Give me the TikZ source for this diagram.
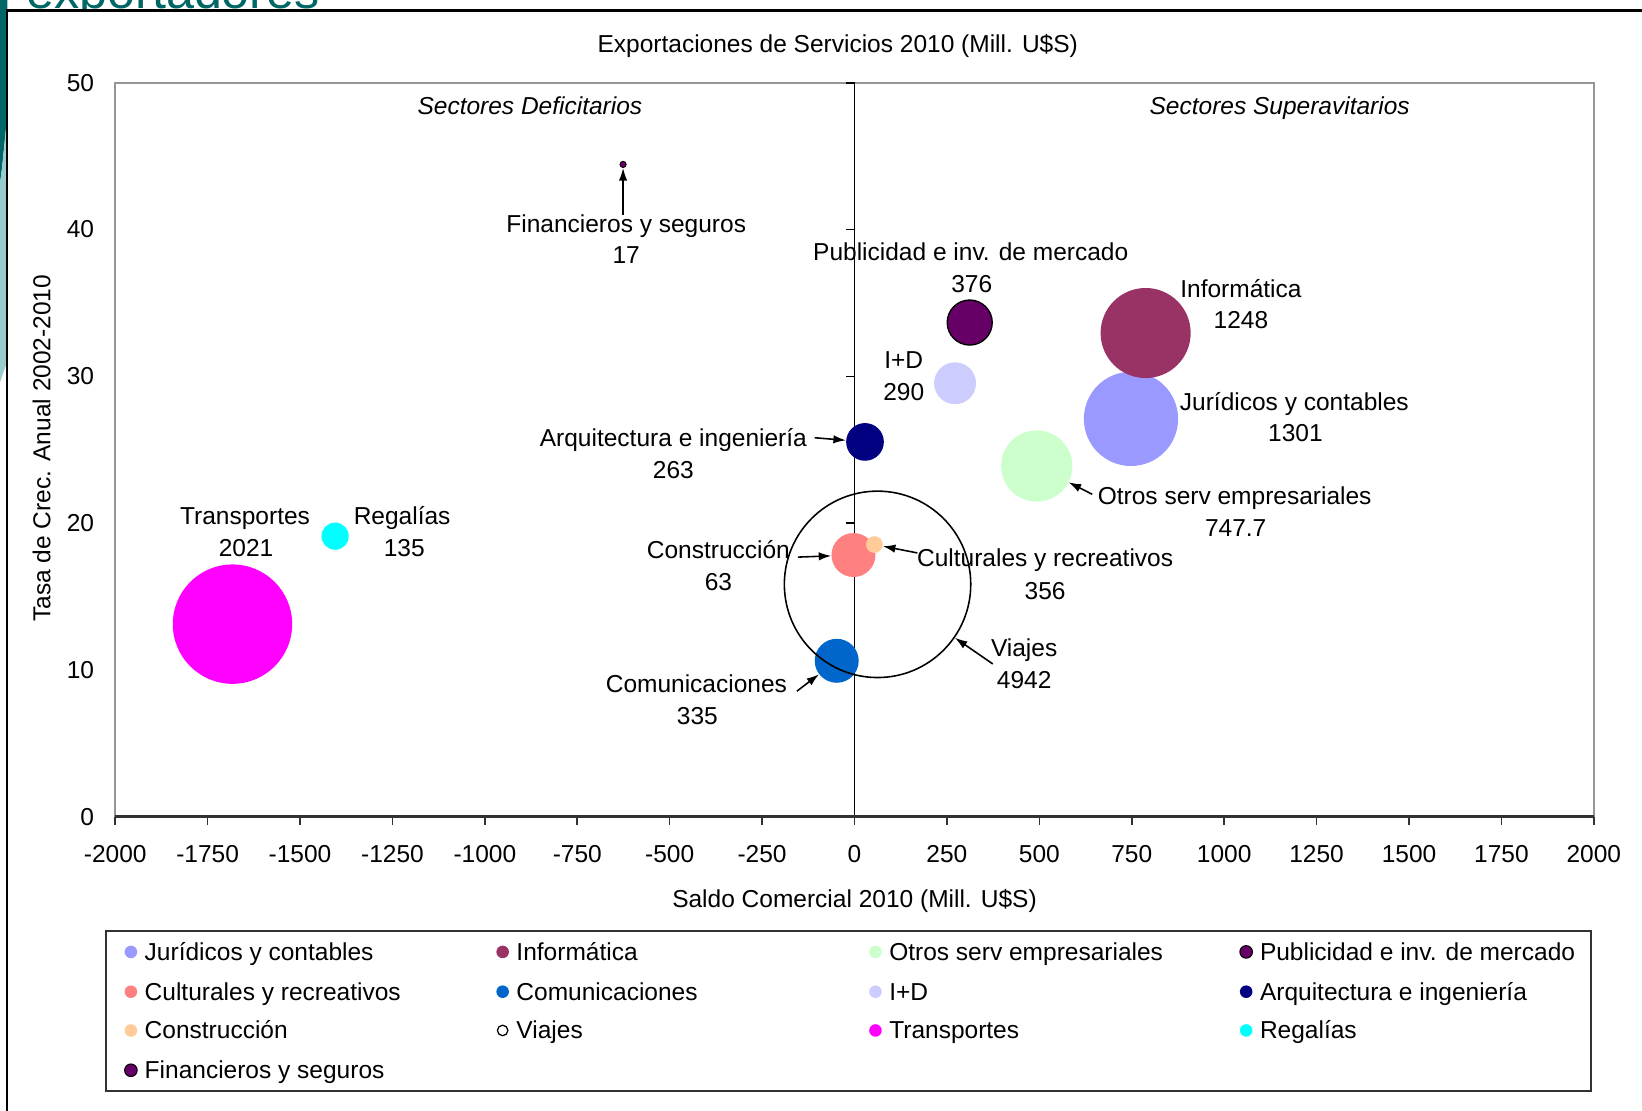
\documentclass[tikz,border=0pt]{standalone}
\usepackage{fontspec}
\setmainfont{Liberation Sans}
\usetikzlibrary{arrows.meta}
\definecolor{tealdark}{RGB}{0,102,102}
\definecolor{teallight}{RGB}{153,204,204}
\definecolor{cJur}{RGB}{153,153,255}
\definecolor{cInf}{RGB}{153,51,102}
\definecolor{cOtr}{RGB}{204,255,204}
\definecolor{cPub}{RGB}{102,0,102}
\definecolor{cCul}{RGB}{255,128,128}
\definecolor{cCom}{RGB}{0,102,204}
\definecolor{cIdd}{RGB}{204,204,255}
\definecolor{cArq}{RGB}{0,0,128}
\definecolor{cCon}{RGB}{255,204,153}
\definecolor{cTra}{RGB}{255,0,255}
\definecolor{cReg}{RGB}{0,255,255}
\definecolor{framegray}{RGB}{150,150,150}
\definecolor{axisdark}{RGB}{50,50,50}
\begin{document}
\begin{tikzpicture}[x=1pt,y=-1pt,
  lbl/.style={font=\fontsize{23.4}{28}\selectfont, inner sep=0pt, anchor=base},
  lblw/.style={lbl, anchor=base west},
  lble/.style={lbl, anchor=base east},
  bub/.style={circle, inner sep=0pt, minimum size=#1},
  arr/.style={-{Latex[length=12pt,width=8pt]}, line width=1.5pt},
  lmark/.style={circle, inner sep=0pt, minimum size=12pt}]
\useasboundingbox (0,0) rectangle (1568,1060);
\clip (0,0) rectangle (1568,1060);
% slide decoration
\fill[tealdark] (0,0) -- (7,0) -- (7,110) -- (2,160) -- (0,175) -- cycle;
\fill[teallight] (0,175) -- (2,160) -- (7,110) -- (7,345) -- (0,365) -- cycle;
\node[font=\fontsize{48}{56}\selectfont, text=tealdark, inner sep=0pt, anchor=base west] (slidetitle) at (25,8) {exportadores};
% chart area frame
\fill[white] (7,10) rectangle (1600,1100);
\draw[line width=2pt, black] (7,1100) -- (7,10) -- (1600,10);
% plot frame and axes
\draw[line width=1.6pt, framegray] (110,780) -- (110,79) -- (1522,79) -- (1522,780);
\draw[line width=1.5pt, black] (816,79) -- (816,780);
\foreach \k in {0,...,5} { \draw[line width=1.5pt, black] (808,{79+140.2*\k}) -- (816,{79+140.2*\k}); }
\draw[line width=2.6pt, axisdark] (110,780) -- (1522,780);
\foreach \k in {0,...,16} { \draw[line width=1.5pt, axisdark] ({110+88.25*\k},780) -- ({110+88.25*\k},788); }
% tick labels
\foreach \v [count=\i from 0] in {-2000,-1750,-1500,-1250,-1000,-750,-500,-250,0,250,500,750,1000,1250,1500,1750,2000}
  { \node[lbl] (xt\i) at ({110+88.25*\i},824) {\v}; }
\foreach \v [count=\i from 0] in {50,40,30,20,10,0}
  { \node[lble] (yt\i) at (90,{87+140.2*\i}) {\v}; }
% titles
\node[lbl] (title) at (800,50) {Exportaciones de Servicios 2010 (Mill. U\$S)};
\node[lbl] (xtitle) at (816,867) {Saldo Comercial 2010 (Mill. U\$S)};
\node[lbl, rotate=90] (ytitle) at (48,428) {Tasa de Crec. Anual 2002-2010};
\node[lbl, font=\fontsize{23.4}{28}\selectfont\itshape] (secD) at (506,109) {Sectores Deficitarios};
\node[lbl, font=\fontsize{23.4}{28}\selectfont\itshape] (secS) at (1222,109) {Sectores Superavitarios};
% bubbles
\node[bub=114, fill=cTra] (tra) at (222,596) {};
\node[bub=26, fill=cReg] (reg) at (320,512) {};
\node[bub=90, fill=cJur] (jur) at (1080,400) {};
\node[bub=86, fill=cInf] (inf) at (1094,318) {};
\node[bub=68, fill=cOtr] (otr) at (990,445) {};
\node[bub=43, fill=cPub, draw=black, line width=1.3pt] (pub) at (926,308) {};
\node[bub=40, fill=cIdd] (idd) at (912,366) {};
\node[bub=36, fill=cArq] (arq) at (826,422) {};
\node[bub=42, fill=cCul] (cul) at (815,530) {};
\node[bub=16, fill=cCon] (con) at (835,520) {};
\node[bub=42, fill=cCom] (com) at (799,631) {};
\node[bub=178, draw=black, line width=1.5pt] (via) at (838,558) {};
\node[bub=6, fill=cPub, draw=black, line width=0.8pt] (fin) at (595,157) {};
% labels
\node[lbl] (finN) at (598,222) {Financieros y seguros};
\node[lbl] (finV) at (598,252) {17};
\node[lbl] (pubN) at (927,249) {Publicidad e inv. de mercado};
\node[lbl] (pubV) at (928,279) {376};
\node[lbl] (infN) at (1185,284) {Informática};
\node[lbl] (infV) at (1185,314) {1248};
\node[lbl] (iddN) at (863,352) {I+D};
\node[lbl] (iddV) at (863,382) {290};
\node[lbl] (jurN) at (1236,392) {Jurídicos y contables};
\node[lbl] (jurV) at (1237,422) {1301};
\node[lbl] (arqN) at (643,426) {Arquitectura e ingeniería};
\node[lbl] (arqV) at (643,457) {263};
\node[lbl] (otrN) at (1179,482) {Otros serv empresariales};
\node[lbl] (otrV) at (1180,512) {747.7};
\node[lbl] (traN) at (234,501) {Transportes};
\node[lbl] (traV) at (235,531) {2021};
\node[lbl] (regN) at (384,501) {Regalías};
\node[lbl] (regV) at (386,531) {135};
\node[lbl] (conN) at (686,533) {Construcción};
\node[lbl] (conV) at (686,564) {63};
\node[lbl] (culN) at (998,541) {Culturales y recreativos};
\node[lbl] (culV) at (998,572) {356};
\node[lbl] (viaN) at (978,627) {Viajes};
\node[lbl] (viaV) at (978,657) {4942};
\node[lbl] (comN) at (665,661) {Comunicaciones};
\node[lbl] (comV) at (666,692) {335};
% arrows
\coordinate (finA) at (595,205);
\coordinate (arqA) at (778,418);
\coordinate (otrA) at (1043,472);
\coordinate (conA) at (762,532);
\coordinate (culA) at (876,528);
\coordinate (viaA) at (948,634);
\coordinate (comA) at (761,660);
\draw[arr] (finA) -- (fin);
\draw[arr] (arqA) -- (arq);
\draw[arr] (otrA) -- (otr);
\draw[arr] (conA) -- (cul);
\draw[arr] (culA) -- (con);
\draw[arr] (viaA) -- (via);
\draw[arr] (comA) -- (com);
% legend
\draw[line width=2pt, axisdark] (101,889) rectangle (1519,1042);
\node[lmark, fill=cJur] (m1) at (125,909) {};
\node[lblw] (l1) at (138,917) {Jurídicos y contables};
\node[lmark, fill=cInf] (m2) at (480,909) {};
\node[lblw] (l2) at (493,917) {Informática};
\node[lmark, fill=cOtr] (m3) at (836,909) {};
\node[lblw] (l3) at (849,917) {Otros serv empresariales};
\node[lmark, fill=cPub, draw=black, line width=1pt] (m4) at (1190,909) {};
\node[lblw] (l4) at (1203,917) {Publicidad e inv. de mercado};
\node[lmark, fill=cCul] (m5) at (125,947) {};
\node[lblw] (l5) at (138,955) {Culturales y recreativos};
\node[lmark, fill=cCom] (m6) at (480,947) {};
\node[lblw] (l6) at (493,955) {Comunicaciones};
\node[lmark, fill=cIdd] (m7) at (836,947) {};
\node[lblw] (l7) at (849,955) {I+D};
\node[lmark, fill=cArq] (m8) at (1190,947) {};
\node[lblw] (l8) at (1203,955) {Arquitectura e ingeniería};
\node[lmark, fill=cCon] (m9) at (125,984) {};
\node[lblw] (l9) at (138,992) {Construcción};
\node[lmark, fill=white, draw=black, line width=1.2pt, minimum size=10pt] (m10) at (480,984) {};
\node[lblw] (l10) at (493,992) {Viajes};
\node[lmark, fill=cTra] (m11) at (836,984) {};
\node[lblw] (l11) at (849,992) {Transportes};
\node[lmark, fill=cReg] (m12) at (1190,984) {};
\node[lblw] (l12) at (1203,992) {Regalías};
\node[lmark, fill=cPub, draw=black, line width=1pt] (m13) at (125,1022) {};
\node[lblw] (l13) at (138,1030) {Financieros y seguros};
\end{tikzpicture}
\end{document}
